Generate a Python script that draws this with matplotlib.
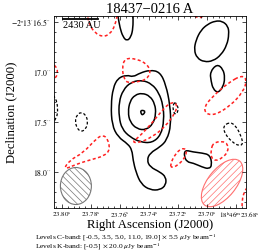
import numpy as np
import matplotlib
matplotlib.use("Agg")
import matplotlib.pyplot as plt
from matplotlib.patches import Ellipse, PathPatch
from matplotlib.path import Path
from matplotlib.ticker import FixedLocator, AutoMinorLocator
import matplotlib.transforms as mtransforms

plt.rcParams['font.family'] = ['Liberation Serif', 'DejaVu Serif']
plt.rcParams['mathtext.fontset'] = 'stix'
plt.rcParams['hatch.linewidth'] = 0.5

# RA in seconds of 18h46m, Dec in arcsec of -2d13m
DEC0 = -2.22

# C-band, positive levels (solid black)
top_u_ra = [23.7621, 23.7614, 23.7600, 23.7579, 23.7552, 23.7524, 23.7510, 23.7510, 23.7510]
top_u_dec = [16.38, 16.44, 16.56, 16.65, 16.69, 16.65, 16.56, 16.44, 16.38]

ne_oval_ra = [23.6896, 23.6855, 23.6848, 23.6862, 23.6903, 23.6958, 23.7020, 23.7069, 23.7089,
              23.7076, 23.7041, 23.6993, 23.6944]
ne_oval_dec = [16.49, 16.54, 16.62, 16.73, 16.83, 16.89, 16.90, 16.86, 16.78, 16.68, 16.58, 16.52, 16.49]

e_blob_ra = [23.6931, 23.6889, 23.6876, 23.6889, 23.6924, 23.6958, 23.6972, 23.6979]
e_blob_dec = [16.92, 16.97, 17.06, 17.15, 17.21, 17.17, 17.09, 17.00]

peak_ra = [23.7462, 23.7421, 23.7448]
peak_dec = [17.38, 17.39, 17.44]

lev3_ra = [23.7448, 23.7393, 23.7359, 23.7352, 23.7372, 23.7421, 23.7483, 23.7531, 23.7545,
           23.7531, 23.7497]
lev3_dec = [17.21, 17.24, 17.32, 17.42, 17.52, 17.58, 17.57, 17.50, 17.40, 17.29, 17.23]

lev2_ra = [23.7448, 23.7379, 23.7331, 23.7303, 23.7296, 23.7317, 23.7379, 23.7462, 23.7531,
           23.7586, 23.7607, 23.7607, 23.7579, 23.7524]
lev2_dec = [17.08, 17.12, 17.21, 17.33, 17.48, 17.63, 17.71, 17.70, 17.65, 17.57, 17.45, 17.30,
            17.18, 17.10]

lev1_ra = [23.7614, 23.7552, 23.7510, 23.7462, 23.7393, 23.7324, 23.7283, 23.7255, 23.7248,
           23.7276, 23.7324, 23.7393, 23.7414, 23.7393, 23.7324, 23.7283, 23.7283, 23.7324,
           23.7393, 23.7455, 23.7490, 23.7510, 23.7517, 23.7545, 23.7614, 23.7655, 23.7662, 23.7648]
lev1_dec = [17.06, 17.03, 17.05, 17.01, 16.98, 17.00, 17.13, 17.33, 17.53, 17.68, 17.75, 17.81,
            17.88, 17.95, 18.00, 18.05, 18.13, 18.18, 18.18, 18.12, 18.00, 17.88, 17.78, 17.72,
            17.65, 17.53, 17.33, 17.16]

se_blob_ra = [23.7152, 23.7096, 23.7034, 23.6979, 23.6965, 23.6986, 23.7034, 23.7096, 23.7138, 23.7158]
se_blob_dec = [17.78, 17.80, 17.81, 17.83, 17.93, 17.97, 17.95, 17.91, 17.90, 17.84]

# C-band, negative level (dashed black)
neg_w_ra = [23.7869, 23.7835, 23.7821, 23.7835, 23.7869, 23.7897, 23.7910, 23.7897]
neg_w_dec = [17.40, 17.43, 17.50, 17.57, 17.60, 17.56, 17.49, 17.43]
neg_e_ra = [23.6841, 23.6800, 23.6765, 23.6751, 23.6779, 23.6827, 23.6876, 23.6889]
neg_e_dec = [17.50, 17.54, 17.64, 17.72, 17.74, 17.70, 17.62, 17.54]
neg_c_ra = [23.7220, 23.7200, 23.7200, 23.7220, 23.7234, 23.7234]
neg_c_dec = [17.30, 17.34, 17.40, 17.43, 17.38, 17.33]
neg_edge_ra = [23.8083, 23.8042, 23.8028, 23.8035, 23.8083]
neg_edge_dec = [17.20, 17.26, 17.36, 17.46, 17.54]

# K-band, negative level (dashed red)
k_top_ra = [23.7828, 23.7814, 23.7773, 23.7717, 23.7669, 23.7635, 23.7614]
k_top_dec = [16.40, 16.52, 16.61, 16.65, 16.62, 16.54, 16.40]
k_north_ra = [23.7566, 23.7483, 23.7414, 23.7386, 23.7421, 23.7490, 23.7545, 23.7572, 23.7586]
k_north_dec = [16.86, 16.87, 16.92, 17.00, 17.08, 17.10, 17.11, 17.07, 16.96]
k_diag_ra = [23.7517, 23.7469, 23.7379, 23.7290, 23.7241, 23.7207, 23.7214, 23.7290, 23.7379, 23.7469]
k_diag_dec = [17.70, 17.65, 17.51, 17.35, 17.30, 17.32, 17.40, 17.55, 17.65, 17.71]
k_ne_ra = [23.6758, 23.6724, 23.6751, 23.6841, 23.6944, 23.7007, 23.7020, 23.6965, 23.6855]
k_ne_dec = [17.03, 17.08, 17.20, 17.34, 17.43, 17.42, 17.35, 17.25, 17.11]
k_e_ra = [23.6958, 23.6896, 23.6855, 23.6855, 23.6896, 23.6938, 23.6972, 23.6972]
k_e_dec = [17.71, 17.69, 17.72, 17.80, 17.86, 17.89, 17.86, 17.78]
k_se_ra = [23.7255, 23.7220, 23.7172, 23.7138, 23.7152, 23.7200, 23.7241]
k_se_dec = [17.93, 17.82, 17.76, 17.78, 17.86, 17.93, 17.96]
k_sw_ra = [23.7993, 23.7945, 23.7855, 23.7759, 23.7717, 23.7683, 23.7669, 23.7710, 23.7807, 23.7897]
k_sw_dec = [17.98, 17.88, 17.81, 17.66, 17.63, 17.67, 17.78, 17.84, 17.88, 17.92]
k_wedge_ra = [23.8083, 23.8042, 23.8028, 23.8042, 23.8083]
k_wedge_dec = [16.90, 16.94, 17.00, 17.06, 17.10]
k_eedge_ra = [23.6703, 23.6744, 23.6758, 23.6758]
k_eedge_dec = [18.11, 18.20, 18.28, 18.40]
k_nedge_ra = [23.7110, 23.7083, 23.7034, 23.7007]
k_nedge_dec = [16.40, 16.45, 16.46, 16.40]

# beams: centre ra, dec, major ("), minor ("), PA (deg)
beam_c = (23.7904, 18.14, 0.37, 0.32, 0.0)
beam_k = (23.6896, 18.11, 0.57, 0.29, -40.0)

ra_ticks = [23.80, 23.78, 23.76, 23.74, 23.72, 23.70, 23.68]
dec_ticks = [16.5, 17.0, 17.5, 18.0]
ra_lim = (23.8055, 23.6731)
dec_lim = (18.36, 16.44)

scale_au = 2430
dist_pc = 6700

levels_c = "[-0.5, 3.5, 5.0, 11.0, 19.0]"
levels_k = "[-0.5]"
rms_c = 5.5
rms_k = 20.0


def smooth_path(xs, ys, closed):
    p = np.column_stack([xs, ys])
    if closed:
        mids = (p + np.roll(p, -1, axis=0)) / 2
        verts = [mids[-1]]
        codes = [Path.MOVETO]
        for i in range(len(p)):
            verts += [p[i], mids[i]]
            codes += [Path.CURVE3, Path.CURVE3]
    else:
        mids = (p[:-1] + p[1:]) / 2
        verts = [p[0], mids[0]]
        codes = [Path.MOVETO, Path.LINETO]
        for i in range(1, len(p) - 1):
            verts += [p[i], mids[i]]
            codes += [Path.CURVE3, Path.CURVE3]
        verts.append(p[-1])
        codes.append(Path.LINETO)
    return Path(verts, codes)


fig = plt.figure(figsize=(2.64, 2.52), dpi=100)
ax = fig.add_axes([54 / 264, 1 - 208 / 252, 192 / 264, 192 / 252])

black_solid = dict(edgecolor='black', lw=1.1, linestyle='-')
black_dash = dict(edgecolor='black', lw=0.9, linestyle=(0, (2.2, 1.6)))
red_dash = dict(edgecolor='#ff2020', lw=1.1, linestyle=(0, (2.0, 1.6)))

contours = [
    (top_u_ra, top_u_dec, False, black_solid),
    (ne_oval_ra, ne_oval_dec, True, black_solid),
    (e_blob_ra, e_blob_dec, True, black_solid),
    (peak_ra, peak_dec, True, black_solid),
    (lev3_ra, lev3_dec, True, black_solid),
    (lev2_ra, lev2_dec, True, black_solid),
    (lev1_ra, lev1_dec, True, black_solid),
    (se_blob_ra, se_blob_dec, True, black_solid),
    (neg_w_ra, neg_w_dec, True, black_dash),
    (neg_e_ra, neg_e_dec, True, black_dash),
    (neg_c_ra, neg_c_dec, True, black_dash),
    (neg_edge_ra, neg_edge_dec, False, black_dash),
    (k_top_ra, k_top_dec, False, red_dash),
    (k_north_ra, k_north_dec, True, red_dash),
    (k_diag_ra, k_diag_dec, True, red_dash),
    (k_ne_ra, k_ne_dec, True, red_dash),
    (k_e_ra, k_e_dec, True, red_dash),
    (k_se_ra, k_se_dec, True, red_dash),
    (k_sw_ra, k_sw_dec, True, red_dash),
    (k_wedge_ra, k_wedge_dec, False, red_dash),
    (k_eedge_ra, k_eedge_dec, False, red_dash),
    (k_nedge_ra, k_nedge_dec, False, red_dash),
]
for ra, dec, closed, style in contours:
    ax.add_patch(PathPatch(smooth_path(ra, dec, closed), fill=False, capstyle='butt', **style))

# beams drawn in arcsec offsets (east, north) around their centres
cosd = np.cos(np.radians(DEC0))
for (ra0, dec0, bmaj, bmin, pa), ec, hatch in [(beam_c, '#777777', '\\\\\\\\\\'),
                                                (beam_k, '#ff7070', '/////')]:
    tr = mtransforms.Affine2D().scale(1 / (15 * cosd), -1).translate(ra0, dec0) + ax.transData
    ax.add_patch(Ellipse((0, 0), bmaj, bmin, angle=90 - pa, transform=tr,
                         facecolor='none', edgecolor=ec, hatch=hatch, lw=0.8))

ax.set_xlim(*ra_lim)
ax.set_ylim(*dec_lim)

ax.xaxis.set_major_locator(FixedLocator(ra_ticks))
xlabels = [r"$%.2f^{\rm s}$" % v for v in ra_ticks]
xlabels[-1] = r"$18^{\rm h}46^{\rm m}%.2f^{\rm s}$" % ra_ticks[-1]
ax.set_xticklabels(xlabels)
ax.yaxis.set_major_locator(FixedLocator(dec_ticks))
ylabels = [r"$%.1f^{\prime\prime}$" % v for v in dec_ticks]
ylabels[0] = r"$-2^{\circ}13^{\prime}%.1f^{\prime\prime}$" % dec_ticks[0]
ax.set_yticklabels(ylabels)
ax.xaxis.set_minor_locator(AutoMinorLocator(5))
ax.yaxis.set_minor_locator(AutoMinorLocator(5))
ax.tick_params(which='both', direction='in', top=True, right=True, width=0.5)
ax.tick_params(axis='x', labelsize=5.0, pad=1.5)
ax.tick_params(axis='y', labelsize=5.6, pad=2)
ax.tick_params(which='major', length=3)
ax.tick_params(which='minor', length=1.5)
for s in ax.spines.values():
    s.set_linewidth(0.6)
# nudge the long last RA label to the right so it clears its neighbour
last = ax.get_xticklabels()[-1]
last.set_transform(last.get_transform() + mtransforms.ScaledTranslation(3 / 100, 0, fig.dpi_scale_trans))

ax.set_xlabel("Right Ascension (J2000)", fontsize=9.2)
ax.xaxis.set_label_coords(0.5, -0.056)
ax.set_ylabel("Declination (J2000)", fontsize=9.2)
ax.yaxis.set_label_coords(-0.19, 0.5)
ax.set_title("18437\u22120216 A", fontsize=10.5, pad=2)

# scale bar
bar_arcsec = scale_au / dist_pc
width_arcsec = (ra_lim[0] - ra_lim[1]) * 15 * cosd
x0 = 0.047
ax.plot([x0, x0 + bar_arcsec / width_arcsec], [0.985, 0.985], transform=ax.transAxes,
        color='black', lw=1.3, clip_on=False)
ax.text(x0, 0.975, "%d AU" % scale_au, transform=ax.transAxes, fontsize=7.5, va='top', ha='left')

fig.text(35 / 264, 1 - 237.5 / 252,
         r"Levels C-band: %s $\times$ %.1f $\mu$Jy beam$^{-1}$" % (levels_c, rms_c),
         fontsize=5.4, va='center', ha='left')
fig.text(35 / 264, 1 - 247 / 252,
         r"Levels K-band: %s $\times$ %.1f $\mu$Jy beam$^{-1}$" % (levels_k, rms_k),
         fontsize=5.4, va='center', ha='left')

fig.savefig("out.png", dpi=100)
